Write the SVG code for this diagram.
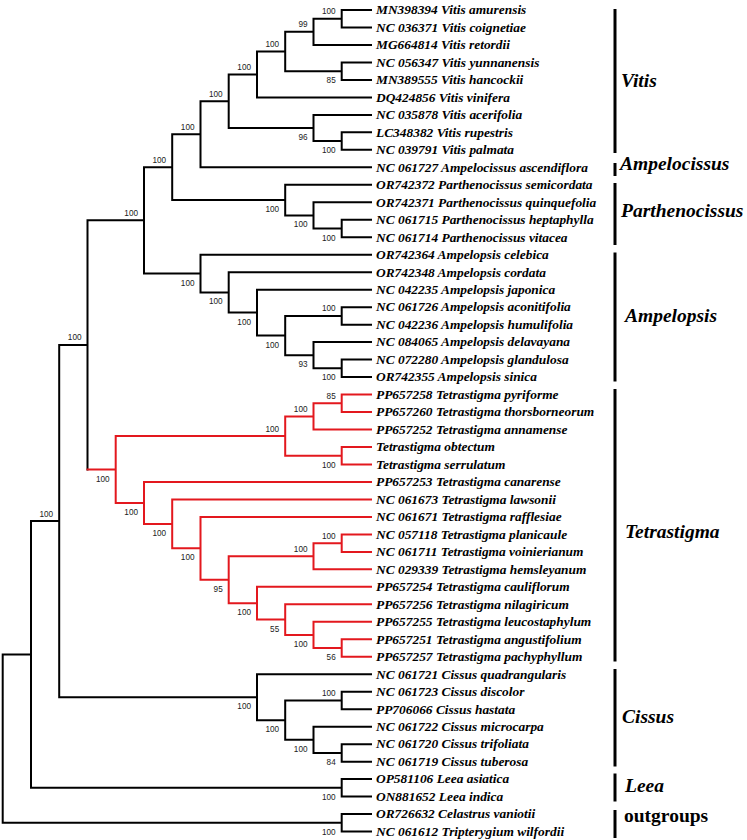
<svg xmlns="http://www.w3.org/2000/svg" width="747" height="840" viewBox="0 0 747 840">
<style>
.br{fill:none;stroke:#000;stroke-width:2;stroke-linecap:square}
.rd{fill:none;stroke:#e3181e;stroke-width:2;stroke-linecap:square}
.tx{font-family:"Liberation Serif","Times New Roman",serif;font-size:13.4px;font-weight:bold;font-style:italic;fill:#000}
.bs{font-family:"Liberation Sans",Arial,sans-serif;font-size:8.2px;fill:#222;text-anchor:end}
.cl{font-family:"Liberation Serif","Times New Roman",serif;font-size:19.5px;font-weight:bold;font-style:italic;fill:#000}
.og{font-family:"Liberation Serif","Times New Roman",serif;font-size:19.5px;font-weight:bold;fill:#000}
.bar{stroke:#000;stroke-width:3}
</style>
<rect width="747" height="840" fill="#fff"/>
<g id="connectors">
<path class="br" d="
M341.7 10H371 M341.7 27.48H371 M341.7 10V27.48
M313.5 18.74H341.7 M313.5 44.96H371 M313.5 18.74V44.96
M341.7 62.44H371 M341.7 79.92H371 M341.7 62.44V79.92
M285.2 31.85H313.5 M285.2 71.18H341.7 M285.2 31.85V71.18
M257 51.52H285.2 M257 97.4H371 M257 51.52V97.4
M341.7 132.36H371 M341.7 149.84H371 M341.7 132.36V149.84
M313.5 114.88H371 M313.5 141.1H341.7 M313.5 114.88V141.1
M228.7 74.46H257 M228.7 127.99H313.5 M228.7 74.46V127.99
M200.5 101.22H228.7 M200.5 167.32H371 M200.5 101.22V167.32
M341.7 219.76H371 M341.7 237.24H371 M341.7 219.76V237.24
M313.5 202.28H371 M313.5 228.5H341.7 M313.5 202.28V228.5
M285.2 184.8H371 M285.2 215.39H313.5 M285.2 184.8V215.39
M172.2 134.27H200.5 M172.2 200.1H285.2 M172.2 134.27V200.1
M341.7 307.16H371 M341.7 324.64H371 M341.7 307.16V324.64
M341.7 359.6H371 M341.7 377.08H371 M341.7 359.6V377.08
M313.5 342.12H371 M313.5 368.34H341.7 M313.5 342.12V368.34
M285.2 315.9H341.7 M285.2 355.23H313.5 M285.2 315.9V355.23
M257 289.68H371 M257 335.57H285.2 M257 289.68V335.57
M228.7 272.2H371 M228.7 312.62H257 M228.7 272.2V312.62
M200.5 254.72H371 M200.5 292.41H228.7 M200.5 254.72V292.41
M144 167.18H172.2 M144 273.57H200.5 M144 167.18V273.57
M87.5 220.37H144 M87.5 220.37V469.51
M59.2 344.94H87.5 M59.2 697.19H257 M59.2 344.94V697.19
M257 674.24H371 M257 720.13H285.2 M257 674.24V720.13
M285.2 700.46H341.7 M285.2 739.79H313.5 M285.2 700.46V739.79
M341.7 691.72H371 M341.7 709.2H371 M341.7 691.72V709.2
M313.5 726.68H371 M313.5 752.9H341.7 M313.5 726.68V752.9
M341.7 744.16H371 M341.7 761.64H371 M341.7 744.16V761.64
M31 521.07H59.2 M31 787.86H341.7 M31 521.07V787.86
M341.7 779.12H371 M341.7 796.6H371 M341.7 779.12V796.6
M2.7 654.47H31 M2.7 822.82H341.7 M2.7 654.47V822.82
M341.7 814.08H371 M341.7 831.56H371 M341.7 814.08V831.56"/>
<path class="rd" d="
M87.5 469.51H115.7
M115.7 436.08H285.2 M115.7 502.93H144 M115.7 436.08V502.93
M285.2 416.41H313.5 M285.2 455.74H341.7 M285.2 416.41V455.74
M313.5 403.3H341.7 M313.5 429.52H371 M313.5 403.3V429.52
M341.7 394.56H371 M341.7 412.04H371 M341.7 394.56V412.04
M341.7 447H371 M341.7 464.48H371 M341.7 447V464.48
M144 481.96H371 M144 523.89H172.2 M144 481.96V523.89
M172.2 499.44H371 M172.2 548.33H200.5 M172.2 499.44V548.33
M200.5 516.92H371 M200.5 579.74H228.7 M200.5 516.92V579.74
M228.7 556.25H313.5 M228.7 603.23H257 M228.7 556.25V603.23
M313.5 543.14H341.7 M313.5 569.36H371 M313.5 543.14V569.36
M341.7 534.4H371 M341.7 551.88H371 M341.7 534.4V551.88
M257 586.84H371 M257 619.62H285.2 M257 586.84V619.62
M285.2 604.32H371 M285.2 634.91H313.5 M285.2 604.32V634.91
M313.5 621.8H371 M313.5 648.02H341.7 M313.5 621.8V648.02
M341.7 639.28H371 M341.7 656.76H371 M341.7 639.28V656.76"/>
</g>
<g id="support">
<g id="n1"><text class="bs" x="335.7" y="14.2">100</text></g>
<g id="n2"><text class="bs" x="307.5" y="27.3">99</text></g>
<g id="n3"><text class="bs" x="335.7" y="83.2">85</text></g>
<g id="n4"><text class="bs" x="279.2" y="47">100</text></g>
<g id="n5"><text class="bs" x="251" y="70">100</text></g>
<g id="n6"><text class="bs" x="335.7" y="153.1">100</text></g>
<g id="n7"><text class="bs" x="307.5" y="140">96</text></g>
<g id="n8"><text class="bs" x="222.7" y="96.7">100</text></g>
<g id="n9"><text class="bs" x="194.5" y="129.8">100</text></g>
<g id="n10"><text class="bs" x="335.7" y="240.5">100</text></g>
<g id="n11"><text class="bs" x="307.5" y="227.4">100</text></g>
<g id="n12"><text class="bs" x="279.2" y="212.1">100</text></g>
<g id="n13"><text class="bs" x="166.2" y="162.7">100</text></g>
<g id="n14"><text class="bs" x="335.7" y="311.4">100</text></g>
<g id="n15"><text class="bs" x="335.7" y="380.3">100</text></g>
<g id="n16"><text class="bs" x="307.5" y="367.2">93</text></g>
<g id="n17"><text class="bs" x="279.2" y="347.6">100</text></g>
<g id="n18"><text class="bs" x="251" y="324.6">100</text></g>
<g id="n19"><text class="bs" x="222.7" y="304.4">100</text></g>
<g id="n20"><text class="bs" x="194.5" y="285.6">100</text></g>
<g id="n21"><text class="bs" x="138" y="215.9">100</text></g>
<g id="t1"><text class="bs" x="335.7" y="398.8">85</text></g>
<g id="t2"><text class="bs" x="307.5" y="411.9">100</text></g>
<g id="t3"><text class="bs" x="335.7" y="467.7">100</text></g>
<g id="t4"><text class="bs" x="279.2" y="431.6">100</text></g>
<g id="tt"><text class="bs" x="109.7" y="481.5">100</text></g>
<g id="tr"><text class="bs" x="138" y="514.9">100</text></g>
<g id="tr2"><text class="bs" x="166.2" y="535.9">100</text></g>
<g id="tr3"><text class="bs" x="194.5" y="560.3">100</text></g>
<g id="tr4"><text class="bs" x="222.7" y="591.7">95</text></g>
<g id="ta1"><text class="bs" x="335.7" y="538.6">100</text></g>
<g id="ta"><text class="bs" x="307.5" y="551.8">100</text></g>
<g id="tb"><text class="bs" x="251" y="615.2">100</text></g>
<g id="tb2"><text class="bs" x="279.2" y="631.6">55</text></g>
<g id="tb3"><text class="bs" x="307.5" y="646.9">100</text></g>
<g id="tb4"><text class="bs" x="335.7" y="660">56</text></g>
<g id="nc"><text class="bs" x="81.5" y="340.4">100</text></g>
<g id="nb"><text class="bs" x="53.2" y="516.6">100</text></g>
<g id="c5"><text class="bs" x="251" y="709.2">100</text></g>
<g id="c4"><text class="bs" x="279.2" y="732.1">100</text></g>
<g id="c1"><text class="bs" x="335.7" y="696">100</text></g>
<g id="c3"><text class="bs" x="307.5" y="751.8">100</text></g>
<g id="c2"><text class="bs" x="335.7" y="764.9">84</text></g>
<g id="leea"><text class="bs" x="335.7" y="799.9">100</text></g>
<g id="out"><text class="bs" x="335.7" y="834.8">100</text></g>
</g>
<g id="leaves">
<g id="leaf1"><text class="tx" x="376" y="14.3">MN398394 Vitis amurensis</text></g>
<g id="leaf2"><text class="tx" x="376" y="31.78">NC 036371 Vitis coignetiae</text></g>
<g id="leaf3"><text class="tx" x="376" y="49.26">MG664814 Vitis retordii</text></g>
<g id="leaf4"><text class="tx" x="376" y="66.74">NC 056347 Vitis yunnanensis</text></g>
<g id="leaf5"><text class="tx" x="376" y="84.22">MN389555 Vitis hancockii</text></g>
<g id="leaf6"><text class="tx" x="376" y="101.7">DQ424856 Vitis vinifera</text></g>
<g id="leaf7"><text class="tx" x="376" y="119.18">NC 035878 Vitis acerifolia</text></g>
<g id="leaf8"><text class="tx" x="376" y="136.66">LC348382 Vitis rupestris</text></g>
<g id="leaf9"><text class="tx" x="376" y="154.14">NC 039791 Vitis palmata</text></g>
<g id="leaf10"><text class="tx" x="376" y="171.62">NC 061727 Ampelocissus ascendiflora</text></g>
<g id="leaf11"><text class="tx" x="376" y="189.1">OR742372 Parthenocissus semicordata</text></g>
<g id="leaf12"><text class="tx" x="376" y="206.58">OR742371 Parthenocissus quinquefolia</text></g>
<g id="leaf13"><text class="tx" x="376" y="224.06">NC 061715 Parthenocissus heptaphylla</text></g>
<g id="leaf14"><text class="tx" x="376" y="241.54">NC 061714 Parthenocissus vitacea</text></g>
<g id="leaf15"><text class="tx" x="376" y="259.02">OR742364 Ampelopsis celebica</text></g>
<g id="leaf16"><text class="tx" x="376" y="276.5">OR742348 Ampelopsis cordata</text></g>
<g id="leaf17"><text class="tx" x="376" y="293.98">NC 042235 Ampelopsis japonica</text></g>
<g id="leaf18"><text class="tx" x="376" y="311.46">NC 061726 Ampelopsis aconitifolia</text></g>
<g id="leaf19"><text class="tx" x="376" y="328.94">NC 042236 Ampelopsis humulifolia</text></g>
<g id="leaf20"><text class="tx" x="376" y="346.42">NC 084065 Ampelopsis delavayana</text></g>
<g id="leaf21"><text class="tx" x="376" y="363.9">NC 072280 Ampelopsis glandulosa</text></g>
<g id="leaf22"><text class="tx" x="376" y="381.38">OR742355 Ampelopsis sinica</text></g>
<g id="leaf23"><text class="tx" x="376" y="398.86">PP657258 Tetrastigma pyriforme</text></g>
<g id="leaf24"><text class="tx" x="376" y="416.34">PP657260 Tetrastigma thorsborneorum</text></g>
<g id="leaf25"><text class="tx" x="376" y="433.82">PP657252 Tetrastigma annamense</text></g>
<g id="leaf26"><text class="tx" x="376" y="451.3">Tetrastigma obtectum</text></g>
<g id="leaf27"><text class="tx" x="376" y="468.78">Tetrastigma serrulatum</text></g>
<g id="leaf28"><text class="tx" x="376" y="486.26">PP657253 Tetrastigma canarense</text></g>
<g id="leaf29"><text class="tx" x="376" y="503.74">NC 061673 Tetrastigma lawsonii</text></g>
<g id="leaf30"><text class="tx" x="376" y="521.22">NC 061671 Tetrastigma rafflesiae</text></g>
<g id="leaf31"><text class="tx" x="376" y="538.7">NC 057118 Tetrastigma planicaule</text></g>
<g id="leaf32"><text class="tx" x="376" y="556.18">NC 061711 Tetrastigma voinierianum</text></g>
<g id="leaf33"><text class="tx" x="376" y="573.66">NC 029339 Tetrastigma hemsleyanum</text></g>
<g id="leaf34"><text class="tx" x="376" y="591.14">PP657254 Tetrastigma cauliflorum</text></g>
<g id="leaf35"><text class="tx" x="376" y="608.62">PP657256 Tetrastigma nilagiricum</text></g>
<g id="leaf36"><text class="tx" x="376" y="626.1">PP657255 Tetrastigma leucostaphylum</text></g>
<g id="leaf37"><text class="tx" x="376" y="643.58">PP657251 Tetrastigma angustifolium</text></g>
<g id="leaf38"><text class="tx" x="376" y="661.06">PP657257 Tetrastigma pachyphyllum</text></g>
<g id="leaf39"><text class="tx" x="376" y="678.54">NC 061721 Cissus quadrangularis</text></g>
<g id="leaf40"><text class="tx" x="376" y="696.02">NC 061723 Cissus discolor</text></g>
<g id="leaf41"><text class="tx" x="376" y="713.5">PP706066 Cissus hastata</text></g>
<g id="leaf42"><text class="tx" x="376" y="730.98">NC 061722 Cissus microcarpa</text></g>
<g id="leaf43"><text class="tx" x="376" y="748.46">NC 061720 Cissus trifoliata</text></g>
<g id="leaf44"><text class="tx" x="376" y="765.94">NC 061719 Cissus tuberosa</text></g>
<g id="leaf45"><text class="tx" x="376" y="783.42">OP581106 Leea asiatica</text></g>
<g id="leaf46"><text class="tx" x="376" y="800.9">ON881652 Leea indica</text></g>
<g id="leaf47"><text class="tx" x="376" y="818.38">OR726632 Celastrus vaniotii</text></g>
<g id="leaf48"><text class="tx" x="376" y="835.86">NC 061612 Tripterygium wilfordii</text></g>
</g>
<g id="clades">
<g id="clade-vitis"><line class="bar" x1="615" y1="9" x2="615" y2="153"/><text class="cl" x="621" y="87">Vitis</text></g>
<g id="clade-ampelocissus"><line class="bar" x1="615" y1="163" x2="615" y2="176"/><text class="cl" x="620" y="170">Ampelocissus</text></g>
<g id="clade-parthenocissus"><line class="bar" x1="615" y1="183" x2="615" y2="245"/><text class="cl" x="621" y="216.5">Parthenocissus</text></g>
<g id="clade-ampelopsis"><line class="bar" x1="615" y1="252.5" x2="615" y2="381.5"/><text class="cl" x="625" y="321.5">Ampelopsis</text></g>
<g id="clade-tetrastigma"><line class="bar" x1="615" y1="389" x2="615" y2="661.5"/><text class="cl" x="625" y="537.5">Tetrastigma</text></g>
<g id="clade-cissus"><line class="bar" x1="615" y1="669" x2="615" y2="766.5"/><text class="cl" x="622" y="722.5">Cissus</text></g>
<g id="clade-leea"><line class="bar" x1="615" y1="773.5" x2="615" y2="801.5"/><text class="cl" x="625" y="791.5">Leea</text></g>
<g id="clade-outgroups"><line class="bar" x1="615" y1="810" x2="615" y2="838"/><text class="og" x="624" y="821.5">outgroups</text></g>
</g>
</svg>
